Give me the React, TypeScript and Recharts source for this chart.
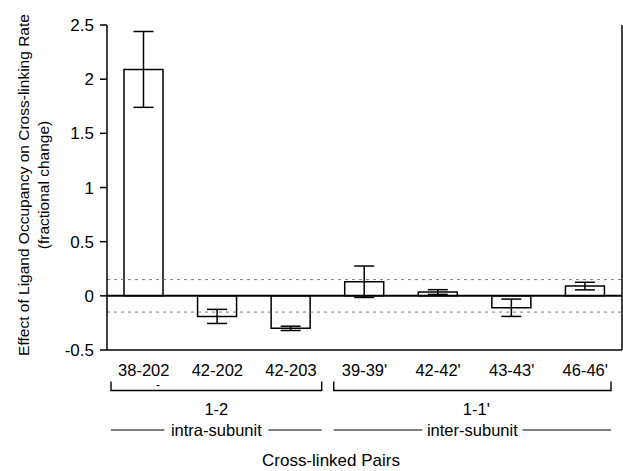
import React from 'react';
import { BarChart, Bar, XAxis, YAxis, ErrorBar, ReferenceLine } from 'recharts';

const categories = ['38-202', '42-202', '42-203', "39-39'", "42-42'", "43-43'", "46-46'"];
const values = [2.09, -0.19, -0.3, 0.13, 0.035, -0.11, 0.09];
const errors = [0.35, 0.065, 0.02, 0.145, 0.022, 0.08, 0.035];
const yTicks = [-0.5, 0, 0.5, 1, 1.5, 2, 2.5];
const thresholds = [0.15, -0.15];

const groupLabels = ['1-2', "1-1'"];
const groupSubLabels = ['intra-subunit', 'inter-subunit'];
const groupStart = [0, 3];
const groupEnd = [2, 6];

const yLabelLines = ['Effect of Ligand Occupancy on Cross-linking Rate', '(fractional change)'];
const xLabel = 'Cross-linked Pairs';

const data = categories.map((name, i) => ({ name, value: values[i], err: errors[i] }));

const W = 623;
const H = 471;
const PLOT_LEFT = 107;
const PLOT_RIGHT = 622;
const PLOT_TOP = 25;
const PLOT_BOTTOM = 350;
const FONT = '"Liberation Sans", Arial, Helvetica, sans-serif';

const bracketInsetL = [4, 6];
const bracketInsetR = [6, 11];
const subHalfGap = [52, 50];

export default function App() {
  const band = (PLOT_RIGHT - PLOT_LEFT) / categories.length;
  const yAxisWidth = 60;
  return (
    <div style={{ position: 'absolute', left: 0, top: 0, width: W, height: H, background: '#fff' }}>
      <BarChart
        width={W}
        height={H}
        data={data}
        margin={{ top: PLOT_TOP, right: W - PLOT_RIGHT - 1, bottom: H - PLOT_BOTTOM - 30, left: PLOT_LEFT - yAxisWidth }}
      >
        <XAxis
          dataKey="name"
          xAxisId={0}
          height={30}
          tickLine={false}
          tickSize={6}
          tickMargin={8}
          axisLine={{ stroke: '#000', strokeWidth: 1.5 }}
          tick={{ fill: '#000', fontSize: 16.5, fontFamily: FONT }}
          interval={0}
        />
        <XAxis
          dataKey="name"
          xAxisId="t"
          orientation="top"
          height={0}
          tick={false}
          tickLine={false}
          axisLine={{ stroke: '#000', strokeWidth: 1.5 }}
        />
        <YAxis
          yAxisId={0}
          width={yAxisWidth}
          domain={[-0.5, 2.5]}
          ticks={yTicks}
          tickSize={7}
          tickMargin={6}
          axisLine={{ stroke: '#000', strokeWidth: 1.5 }}
          tickLine={{ stroke: '#000', strokeWidth: 1.5 }}
          tick={{ fill: '#000', fontSize: 17, fontFamily: FONT }}
          allowDataOverflow
        />
        <YAxis
          yAxisId="r"
          orientation="right"
          width={1}
          domain={[-0.5, 2.5]}
          tick={false}
          tickLine={false}
          axisLine={{ stroke: '#000', strokeWidth: 1.5 }}
        />
        {thresholds.map((t) => (
          <ReferenceLine
            key={t}
            y={t}
            xAxisId={0}
            yAxisId={0}
            stroke="#777"
            strokeWidth={1}
            strokeDasharray="3 4"
          />
        ))}
        <Bar
          dataKey="value"
          xAxisId={0}
          yAxisId={0}
          fill="#fff"
          stroke="#000"
          strokeWidth={1.5}
          barSize={39}
          isAnimationActive={false}
        >
          <ErrorBar dataKey="err" width={10} stroke="#000" strokeWidth={1.5} />
        </Bar>
        <ReferenceLine y={0} xAxisId={0} yAxisId={0} stroke="#000" strokeWidth={2} />
      </BarChart>
      <svg
        width={W}
        height={H}
        style={{ position: 'absolute', left: 0, top: 0, pointerEvents: 'none' }}
        fontFamily={FONT}
      >
        {yLabelLines.map((line, i) => (
          <text
            key={line}
            x={0}
            y={0}
            transform={`translate(${29 + i * 20}, 185) rotate(-90)`}
            textAnchor="middle"
            fontSize={15.5}
            fill="#000"
          >
            {line}
          </text>
        ))}
        <text x={158} y={389} fontSize={12} fill="#000" textAnchor="middle">-</text>
        {groupLabels.map((g, i) => {
          const x1 = PLOT_LEFT + band * groupStart[i] + bracketInsetL[i];
          const x2 = PLOT_LEFT + band * (groupEnd[i] + 1) - bracketInsetR[i];
          const cx = (x1 + x2) / 2;
          return (
            <g key={g}>
              <path
                d={`M${x1},381.5 L${x1},390.5 L${x2},390.5 L${x2},381.5`}
                fill="none"
                stroke="#000"
                strokeWidth={1.4}
              />
              <text x={cx + (i === 1 ? 4 : 0)} y={415} textAnchor="middle" fontSize={16.5} fill="#000">
                {g}
              </text>
              <text x={cx} y={436} textAnchor="middle" fontSize={16.5} fill="#000">
                {groupSubLabels[i]}
              </text>
              <line x1={x1} y1={430} x2={cx - subHalfGap[i]} y2={430} stroke="#000" strokeWidth={1.2} />
              <line x1={cx + subHalfGap[i]} y1={430} x2={x2} y2={430} stroke="#000" strokeWidth={1.2} />
            </g>
          );
        })}
        <text x={331} y={466} textAnchor="middle" fontSize={17} fill="#000">
          {xLabel}
        </text>
      </svg>
    </div>
  );
}
